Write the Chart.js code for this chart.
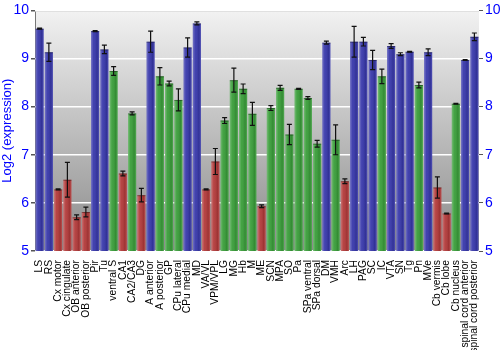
<!DOCTYPE html>
<html>
<head>
<meta charset="UTF-8">
<title>Log2 expression</title>
<script src="https://cdn.jsdelivr.net/npm/chart.js"></script>
<style>
  body { margin: 0; background: #fff; }
  #grafico { display: block; }
</style>
</head>
<body>
<canvas id="grafico" width="500" height="350"></canvas>
<script>
// regions, mean log2 expression, error and colour group
var regioes = ['LS', 'RS', 'Cx motor', 'Cx cingulate', 'OB anterior', 'OB posterior', 'Pir', 'Tu',
  'ventral S', 'CA1', 'CA2/CA3', 'DG', 'A anterior', 'A posterior', 'GP', 'CPu lateral', 'CPu medial',
  'MD', 'VA/VL', 'VPM/VPL', 'LG', 'MG', 'Hb', 'M', 'ME', 'SCN', 'MPA', 'SO', 'Pa', 'SPa ventral',
  'SPa dorsal', 'DM', 'VMH', 'Arc', 'LH', 'PAG', 'SC', 'IC', 'VTA', 'SN', 'Tg', 'Pn', 'MVe',
  'Cb vermis', 'Cb lobe', 'Cb nucleus', 'spinal cord anterior', 'spinal cord posterior'];

var valores = [9.62, 9.13, 6.28, 6.48, 5.70, 5.81, 9.57, 9.19,
  8.74, 6.61, 7.86, 6.16, 9.35, 8.63, 8.48, 8.14, 9.23,
  9.73, 6.28, 6.86, 7.71, 8.55, 8.37, 7.85, 5.93, 7.97, 8.39, 7.42, 8.37, 8.18,
  7.23, 9.33, 7.31, 6.45, 9.35, 9.35, 8.97, 8.63, 9.26, 9.09, 9.14, 8.45, 9.13,
  6.32, 5.78, 8.06, 8.97, 9.45];

var erros = [0.01, 0.19, 0.01, 0.36, 0.05, 0.10, 0.01, 0.09,
  0.09, 0.05, 0.03, 0.14, 0.22, 0.18, 0.05, 0.23, 0.20,
  0.03, 0.01, 0.27, 0.06, 0.25, 0.10, 0.24, 0.03, 0.05, 0.05, 0.21, 0.01, 0.03,
  0.07, 0.03, 0.31, 0.05, 0.32, 0.09, 0.20, 0.15, 0.05, 0.03, 0.01, 0.06, 0.07,
  0.22, 0.01, 0.01, 0.01, 0.08];

var grupos = ['b', 'b', 'r', 'r', 'r', 'r', 'b', 'b',
  'g', 'r', 'g', 'r', 'b', 'g', 'g', 'g', 'b',
  'b', 'r', 'r', 'g', 'g', 'g', 'g', 'r', 'g', 'g', 'g', 'g', 'g',
  'g', 'b', 'g', 'r', 'b', 'b', 'b', 'g', 'b', 'b', 'b', 'g', 'b',
  'r', 'r', 'g', 'b', 'b'];

var yTicks = [5, 6, 7, 8, 9, 10];

var cores = { b: '#3838ab', g: '#3a9e3a', r: '#b33a3a' };
var azul = '#0000ff';

// gray gradient behind the plot plus the frame
var fundo = {
  id: 'fundo',
  beforeDraw: function (chart) {
    var a = chart.chartArea, c = chart.ctx;
    var g = c.createLinearGradient(0, a.top, 0, a.bottom);
    g.addColorStop(0, '#f2f2f2');
    g.addColorStop(1, '#8a8a8a');
    c.save();
    c.fillStyle = g;
    c.fillRect(a.left, a.top, a.right - a.left, a.bottom - a.top);
    c.strokeStyle = '#777';
    c.lineWidth = 1;
    c.beginPath();
    c.moveTo(a.left + 0.5, a.bottom);
    c.lineTo(a.left + 0.5, a.top + 0.5);
    c.lineTo(a.right, a.top + 0.5);
    c.stroke();
    c.restore();
  }
};

// cylinder shading on the bars and the error bars
var barras = {
  id: 'barras',
  afterDatasetsDraw: function (chart) {
    var c = chart.ctx, a = chart.chartArea, y = chart.scales.y;
    var meta = chart.getDatasetMeta(0);
    c.save();
    c.beginPath();
    c.rect(a.left, a.top, a.right - a.left, a.bottom - a.top);
    c.clip();
    meta.data.forEach(function (el, i) {
      var w = el.width, x0 = el.x - w / 2;
      var g = c.createLinearGradient(x0, 0, x0 + w, 0);
      g.addColorStop(0, 'rgba(255,255,255,0.30)');
      g.addColorStop(0.3, 'rgba(255,255,255,0.05)');
      g.addColorStop(0.75, 'rgba(0,0,0,0.12)');
      g.addColorStop(1, 'rgba(255,255,255,0.12)');
      c.fillStyle = g;
      c.fillRect(x0, el.y, w, a.bottom - el.y);
      c.fillStyle = 'rgba(0,0,0,0.35)';
      c.fillRect(x0, el.y, w, 1);

      var hi = y.getPixelForValue(valores[i] + erros[i]);
      var lo = y.getPixelForValue(valores[i] - erros[i]);
      c.strokeStyle = '#111';
      c.lineWidth = 1.2;
      c.beginPath();
      c.moveTo(el.x, hi); c.lineTo(el.x, lo);
      c.moveTo(el.x - 2.5, hi); c.lineTo(el.x + 2.5, hi);
      c.moveTo(el.x - 2.5, lo); c.lineTo(el.x + 2.5, lo);
      c.stroke();
    });
    c.restore();
  }
};

var fonte = 'Liberation Sans, Arial, sans-serif';

new Chart(document.getElementById('grafico'), {
  type: 'bar',
  data: {
    labels: regioes,
    datasets: [{
      data: valores,
      backgroundColor: grupos.map(function (k) { return cores[k]; }),
      borderWidth: 0,
      barPercentage: 0.88,
      categoryPercentage: 1.0
    }]
  },
  options: {
    responsive: false,
    animation: false,
    layout: { padding: { top: 9, left: 0, right: 0, bottom: 0 } },
    plugins: { legend: { display: false }, tooltip: { enabled: false } },
    scales: {
      x: {
        grid: { display: false },
        border: { display: false },
        ticks: {
          color: '#000', autoSkip: false, minRotation: 90, maxRotation: 90,
          padding: 1, font: { family: fonte, size: 10.3 }
        },
        afterFit: function (s) { s.height = 99; }
      },
      y: {
        min: 5, max: 10,
        afterBuildTicks: function (s) { s.ticks = yTicks.map(function (v) { return { value: v }; }); },
        grid: { color: '#ffffff', lineWidth: 1.5, drawTicks: true, tickLength: 4, tickColor: '#555' },
        border: { display: false },
        title: { display: true, text: 'Log2 (expression)', color: azul, padding: 0, font: { family: fonte, size: 13 } },
        ticks: { color: azul, padding: 2, font: { family: fonte, size: 14 } },
        afterFit: function (s) { s.width = 35; }
      },
      y2: {
        position: 'right', min: 5, max: 10,
        afterBuildTicks: function (s) { s.ticks = yTicks.map(function (v) { return { value: v }; }); },
        grid: { drawOnChartArea: false, tickLength: 4, color: '#555' },
        border: { display: false },
        ticks: { color: azul, padding: 2, font: { family: fonte, size: 14 } },
        afterFit: function (s) { s.width = 21; }
      }
    }
  },
  plugins: [fundo, barras]
});
</script>
</body>
</html>
